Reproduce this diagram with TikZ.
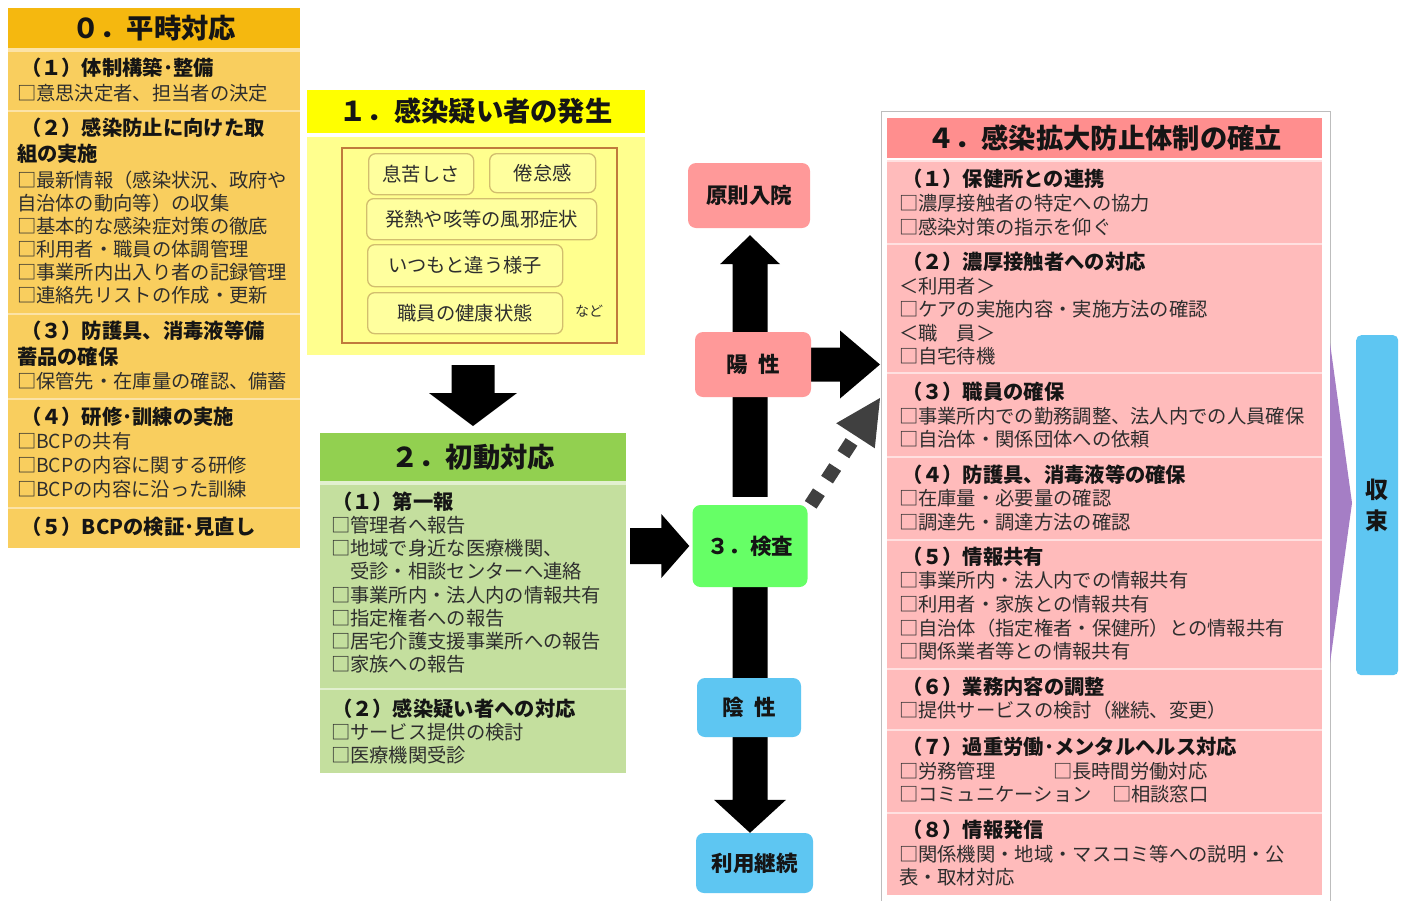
\documentclass[tikz,border=0pt]{standalone}
\usepackage{fontspec}
\setmainfont{Noto Sans CJK JP}
\usetikzlibrary{calc,backgrounds}
\definecolor{goldT}{HTML}{F5B80F}
\definecolor{goldB}{HTML}{F9CE5E}
\definecolor{goldS}{HTML}{FCE3A6}
\definecolor{yelT}{HTML}{FFFF00}
\definecolor{yelB}{HTML}{FFFF8E}
\definecolor{yelF}{HTML}{C07A3C}
\definecolor{yelK}{HTML}{D2BE6E}
\definecolor{yelI}{HTML}{FFFF9E}
\definecolor{grnT}{HTML}{92D050}
\definecolor{grnB}{HTML}{C4DF9E}
\definecolor{grnS}{HTML}{E2F0CF}
\definecolor{pnkT}{HTML}{FF8E8E}
\definecolor{pnkB}{HTML}{FFBBBB}
\definecolor{pnkS}{HTML}{FFE0E0}
\definecolor{pnkM}{HTML}{FF9999}
\definecolor{grnM}{HTML}{66FF66}
\definecolor{bluM}{HTML}{5EC6F2}
\definecolor{purM}{HTML}{A57EC5}
\definecolor{dgray}{HTML}{404040}
\definecolor{itc}{HTML}{2E2E2E}
\definecolor{hdc}{HTML}{151515}
\definecolor{frm}{HTML}{BDBDBD}
\newcommand\rnode[6]{\node[anchor=north west,inner sep=0pt,outer sep=0pt,minimum width=#4pt,minimum height=#5pt,fill=#6] (#1) at (#2,#3) {};}
\newcommand\txtlines[6]{\foreach \tx [count=\i] in {#6} {\node[#1] (#2\i) at (#3,{#4+#5*(\i-1)}) {\tx};}}
\newcommand\blockarr[5]{%
 \coordinate (bam) at ($(#2)!#5pt!(#1)$);
 \fill[black] ($(#1)!#3pt!90:(#2)$) -- ($(bam)!#3pt!90:(#2)$) -- ($(bam)!#4pt!90:(#2)$) -- (#2) -- ($(bam)!#4pt!-90:(#2)$) -- ($(bam)!#3pt!-90:(#2)$) -- ($(#1)!#3pt!-90:(#2)$) -- cycle;}
\begin{document}
\begin{tikzpicture}[x=1pt,y=-1pt,
 hd/.style={anchor=base west,inner sep=0pt,outer sep=0pt,font=\fontsize{20.3}{24}\selectfont\bfseries,text=hdc,yshift=-7.5pt},
 it/.style={anchor=base west,inner sep=0pt,outer sep=0pt,font=\fontsize{19.3}{23}\selectfont,text=itc,yshift=-7.1pt},
 ttl/.style={inner sep=0pt,font=\fontsize{27.3}{30}\selectfont\bfseries,text=hdc},
 mid/.style={rounded corners=8pt,inner sep=0pt,font=\fontsize{21.5}{24}\selectfont\bfseries,text=hdc},
 sym/.style={anchor=north west,draw=yelK,line width=1.3pt,rounded corners=7pt,fill=yelI,inner sep=0pt,font=\fontsize{19.3}{23}\selectfont,text=itc}]
\useasboundingbox (0,0) rectangle (1404,900);
\begin{pgfonlayer}{background}
\fill[white] (-5,-5) rectangle (1409,905);
\end{pgfonlayer}

% ---------- 0 ----------
\rnode{s0t}{8}{8}{292}{40}{goldT}
\fill[goldS] (8,48) rectangle (300,548);
\rnode{s0b1}{8}{52}{292}{58}{goldB}
\rnode{s0b2}{8}{112}{292}{201}{goldB}
\rnode{s0b3}{8}{315}{292}{83}{goldB}
\rnode{s0b4}{8}{400}{292}{107}{goldB}
\rnode{s0b5}{8}{509}{292}{39}{goldB}
\node[ttl] (s0tt) at (s0t.center) {０．平時対応};
\node[hd] (s0h1) at (21,68) {（１）体制構築･整備};
\node[it] (s0i1) at (17,93) {□意思決定者、担当者の決定};
\node[hd] (s0h2a) at (21,128) {（２）感染防止に向けた取};
\node[hd] (s0h2b) at (17,154) {組の実施};
\txtlines{it}{s0i2-}{17}{180}{23}{□最新情報（感染状況、政府や,自治体の動向等）の収集,□基本的な感染症対策の徹底,□利用者・職員の体調管理,□事業所内出入り者の記録管理,□連絡先リストの作成・更新}
\node[hd] (s0h3a) at (21,331) {（３）防護具、消毒液等備};
\node[hd] (s0h3b) at (17,357) {蓄品の確保};
\node[it] (s0i3) at (17,381) {□保管先・在庫量の確認、備蓄};
\node[hd] (s0h4) at (21,417) {（４）研修･訓練の実施};
\txtlines{it}{s0i4-}{17}{441}{24}{□BCPの共有,□BCPの内容に関する研修,□BCPの内容に沿った訓練}
\node[hd] (s0h5) at (21,527) {（５）BCPの検証･見直し};

% ---------- 1 ----------
\rnode{s1t}{307}{90}{338}{43}{yelT}
\rnode{s1b}{307}{137}{338}{218}{yelB}
\node[ttl] (s1tt) at (s1t.center) {１．感染疑い者の発生};
\node[anchor=north west,draw=yelF,line width=1.5pt,inner sep=0pt,minimum width=275pt,minimum height=195pt] (s1f) at (341,147) {};
\node[sym,minimum width=105pt,minimum height=41pt] (sy1) at (368,153) {息苦しさ};
\node[sym,minimum width=106pt,minimum height=39pt] (sy2) at (489,153) {倦怠感};
\node[sym,minimum width=230pt,minimum height=41pt] (sy3) at (366,198) {発熱や咳等の風邪症状};
\node[sym,minimum width=195pt,minimum height=42pt] (sy4) at (367,244) {いつもと違う様子};
\node[sym,minimum width=195pt,minimum height=41pt] (sy5) at (367,292) {職員の健康状態};
\node[font=\fontsize{14}{16}\selectfont,text=itc,inner sep=0pt] (nado) at (589,311) {など};

% ---------- 2 ----------
\rnode{s2t}{320}{433}{306}{48}{grnT}
\fill[grnS] (320,481) rectangle (626,773);
\rnode{s2b1}{320}{485}{306}{203}{grnB}
\rnode{s2b2}{320}{690}{306}{83}{grnB}
\node[ttl] (s2tt) at (s2t.center) {２．初動対応};
\node[hd] (s2h1) at (332,502) {（１）第一報};
\txtlines{it}{s2i1-}{331}{525}{23.3}{□管理者へ報告,□地域で身近な医療機関、,　受診・相談センターへ連絡,□事業所内・法人内の情報共有,□指定権者への報告,□居宅介護支援事業所への報告,□家族への報告}
\node[hd] (s2h2) at (332,709) {（２）感染疑い者への対応};
\txtlines{it}{s2i2-}{331}{732}{23.5}{□サービス提供の検討,□医療機関受診}

% ---------- middle ----------
\node[mid,fill=pnkM,minimum width=122pt,minimum height=65pt] (genin) at (749,195.5) {原則入院};
\node[mid,fill=pnkM,minimum width=116pt,minimum height=65pt] (yousei) at (753,364.5) {陽\hspace{0.5em}性};
\node[mid,fill=grnM,minimum width=115pt,minimum height=82pt] (kensa) at (750,546) {３．検査};
\node[mid,fill=bluM,minimum width=104pt,minimum height=59pt] (insei) at (749,707.5) {陰\hspace{0.5em}性};
\node[mid,fill=bluM,minimum width=117pt,minimum height=60pt] (riyou) at (754.5,863) {利用継続};

% ---------- 4 ----------
\node[anchor=north west,draw=frm,line width=1pt,inner sep=0pt,outer sep=0pt,minimum width=449pt,minimum height=800pt] (s4f) at (881,111) {};
\rnode{s4t}{887}{118}{435}{40}{pnkT}
\fill[pnkS] (887,160) rectangle (1322,895);
\rnode{s4b1}{887}{162}{435}{81}{pnkB}
\rnode{s4b2}{887}{245}{435}{127}{pnkB}
\rnode{s4b3}{887}{374}{435}{82}{pnkB}
\rnode{s4b4}{887}{458}{435}{81}{pnkB}
\rnode{s4b5}{887}{541}{435}{127}{pnkB}
\rnode{s4b6}{887}{670}{435}{59}{pnkB}
\rnode{s4b7}{887}{731}{435}{81}{pnkB}
\rnode{s4b8}{887}{814}{435}{81}{pnkB}
\node[ttl] (s4tt) at (s4t.center) {４．感染拡大防止体制の確立};
\node[hd] (s4h1) at (902,179) {（１）保健所との連携};
\txtlines{it}{s4i1-}{899}{203.5}{23.5}{□濃厚接触者の特定への協力,□感染対策の指示を仰ぐ}
\node[hd] (s4h2) at (902,262) {（２）濃厚接触者への対応};
\txtlines{it}{s4i2-}{899}{286}{23.5}{＜利用者＞,□ケアの実施内容・実施方法の確認,＜職　員＞,□自宅待機}
\node[hd] (s4h3) at (902,392) {（３）職員の確保};
\txtlines{it}{s4i3-}{899}{416}{23.5}{□事業所内での勤務調整、法人内での人員確保,□自治体・関係団体への依頼}
\node[hd] (s4h4) at (902,475) {（４）防護具、消毒液等の確保};
\txtlines{it}{s4i4-}{899}{498.5}{23.5}{□在庫量・必要量の確認,□調達先・調達方法の確認}
\node[hd] (s4h5) at (902,557) {（５）情報共有};
\txtlines{it}{s4i5-}{899}{580.5}{23.7}{□事業所内・法人内での情報共有,□利用者・家族との情報共有,□自治体（指定権者・保健所）との情報共有,□関係業者等との情報共有}
\node[hd] (s4h6) at (902,687) {（６）業務内容の調整};
\node[it] (s4i6) at (899,710) {□提供サービスの検討（継続、変更）};
\node[hd] (s4h7) at (902,747) {（７）過重労働･メンタルヘルス対応};
\node[it] (s4i7a) at (899,771) {□労務管理};
\node[it] (s4i7b) at (1053,771) {□長時間労働対応};
\node[it] (s4i7c) at (899,794) {□コミュニケーション};
\node[it] (s4i7d) at (1112,794) {□相談窓口};
\node[hd] (s4h8) at (902,830) {（８）情報発信};
\txtlines{it}{s4i8-}{899}{854}{23}{□関係機関・地域・マスコミ等への説明・公,表・取材対応}

% ---------- right ----------
\fill[purM] (1330,343) -- (1352,503) -- (1330,663) -- cycle;
\node[anchor=north west,rounded corners=5pt,fill=bluM,inner sep=0pt,minimum width=42pt,minimum height=340pt,align=center,font=\fontsize{23}{31}\selectfont\bfseries,text=hdc] (shusoku) at (1356,335) {収\\束};

% ---------- arrows ----------
\begin{pgfonlayer}{background}
\coordinate (a1s) at ($(s2t.north |- s1b.south)+(0,10)$);
\coordinate (a1e) at ($(s2t.north)+(0,-7)$);
\blockarr{a1s}{a1e}{21.5}{44}{33}
\coordinate (a2s) at ($(s2b1.east |- kensa.west)+(4,0)$);
\coordinate (a2e) at ($(kensa.west)+(-3,0)$);
\blockarr{a2s}{a2e}{18}{32}{28}
\coordinate (a3s) at ($(kensa.north)+(0,-8)$);
\coordinate (a3e) at ($(kensa.north |- genin.south)+(0,7)$);
\blockarr{a3s}{a3e}{17.5}{30}{29}
\coordinate (a4s) at (kensa.south);
\coordinate (a4e) at (kensa.south |- riyou.north);
\blockarr{a4s}{a4e}{17.5}{36}{33}
\coordinate (a5s) at (yousei.east);
\coordinate (a5e) at ($(yousei.east -| s4f.west)+(-1,0)$);
\blockarr{a5s}{a5e}{17}{34}{40}
\coordinate (ds) at ($(kensa.north east)+(3,0)$);
\coordinate (dtip) at (880,398);
\coordinate (dm) at ($(dtip)!45pt!(ds)$);
\draw[dgray,line width=14pt,dash pattern=on 15pt off 15pt] (ds) -- (dm);
\fill[dgray] ($(dm)!23pt!90:(dtip)$) -- (dtip) -- ($(dm)!23pt!-90:(dtip)$) -- cycle;
\end{pgfonlayer}
\end{tikzpicture}
\end{document}
